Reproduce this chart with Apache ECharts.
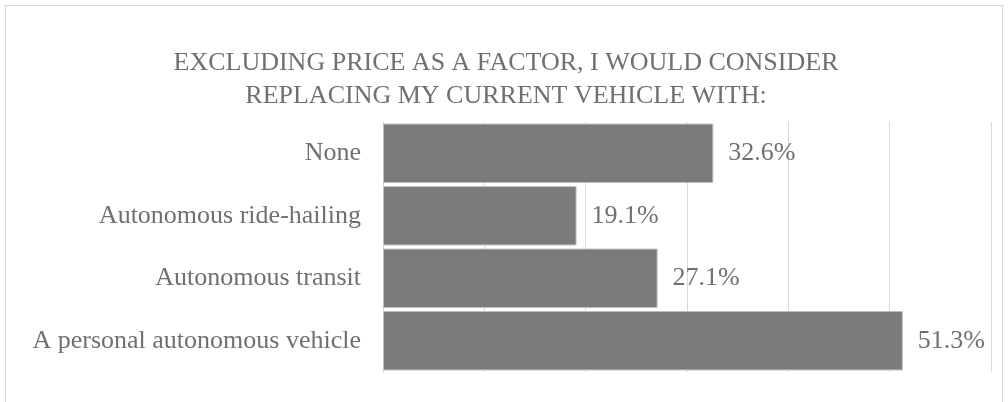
<!DOCTYPE html>
<html>
<head>
<meta charset="utf-8">
<script src="https://cdn.jsdelivr.net/npm/echarts@6/dist/echarts.min.js"></script>
<style>
  html, body { margin: 0; padding: 0; background: #fff; }
  #chart { width: 1008px; height: 402px; }
</style>
</head>
<body>
<div id="chart"></div>
<script>
  // 数据
  const categories = ['None', 'Autonomous ride-hailing', 'Autonomous transit', 'A personal autonomous vehicle']
  const values = [32.6, 19.1, 27.1, 51.3]
  const titleLines = ['EXCLUDING PRICE AS A FACTOR, I WOULD CONSIDER', 'REPLACING MY CURRENT VEHICLE WITH:']

  const font = '"Liberation Serif", "Times New Roman", serif'
  const textColor = '#707070'

  const myChart = echarts.init(document.getElementById('chart'))
  myChart.setOption({
    animation: false,
    title: {
      text: titleLines.join('\n'),
      left: 501,
      top: 42,
      textAlign: 'center',
      textStyle: {
        fontFamily: font,
        fontWeight: 'normal',
        fontSize: 26,
        lineHeight: 33,
        color: textColor
      }
    },
    graphic: [{
      type: 'rect',
      shape: { x: 5.5, y: 5.5, width: 997, height: 420 },
      style: { fill: 'none', stroke: '#d9d9d9', lineWidth: 1 },
      silent: true
    }],
    grid: {
      left: 383,
      right: 17,
      top: 122,
      bottom: 30
    },
    xAxis: {
      type: 'value',
      min: 0,
      max: 60,
      interval: 10,
      axisLabel: { show: false },
      axisTick: { show: false },
      axisLine: { show: false },
      splitLine: { show: true, lineStyle: { color: '#d9d9d9', width: 1 } }
    },
    yAxis: {
      type: 'category',
      inverse: true,
      data: categories,
      axisTick: { show: false },
      axisLine: { show: true, lineStyle: { color: '#d9d9d9' } },
      axisLabel: {
        margin: 22,
        fontFamily: font,
        fontSize: 26,
        color: textColor
      }
    },
    series: [{
      type: 'bar',
      data: values,
      barCategoryGap: '5%',
      itemStyle: { color: '#7b7b7d', borderColor: '#bfbfbf', borderWidth: 1 },
      label: {
        show: true,
        position: 'right',
        distance: 15,
        formatter: p => p.value.toFixed(1) + '%',
        fontFamily: font,
        fontSize: 26,
        color: textColor
      }
    }]
  })
</script>
</body>
</html>
